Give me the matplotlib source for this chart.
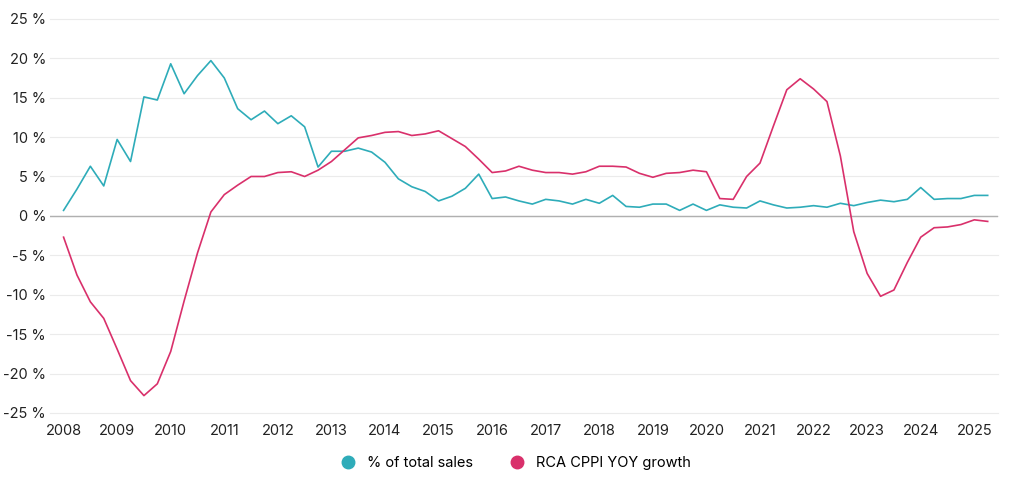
import matplotlib
matplotlib.use("Agg")
import matplotlib.pyplot as plt
import numpy as np
from matplotlib.lines import Line2D

plt.rcParams['font.family'] = ['Inter', 'DejaVu Sans']

start_year = 2008.0
share_sales = [0.7,3.4,6.3,3.8,9.7,6.9,15.1,14.7,19.3,15.5,17.8,19.7,17.5,13.6,12.2,13.3,11.7,12.7,11.3,6.2,
               8.2,8.2,8.6,8.1,6.8,4.7,3.7,3.1,1.9,2.5,3.5,5.3,2.2,2.4,
               1.9,1.5,2.1,1.9,1.5,2.1,1.6,2.6,1.2,1.1,1.5,1.5,0.7,1.5,0.7,1.4,1.1,1.0,1.9,1.4,1.0,1.1,1.3,1.1,
               1.6,1.3,1.7,2.0,1.8,2.1,3.6,2.1,2.2,2.2,2.6,2.6]
cppi_yoy = [-2.7,-7.5,-10.9,-13.0,-16.9,-20.9,-22.8,-21.3,-17.2,-10.8,-4.7,0.5,2.7,3.9,5.0,5.0,5.5,5.6,5.0,5.8,
            6.9,8.4,9.9,10.2,10.6,10.7,10.2,10.4,10.8,9.8,8.8,7.2,5.5,5.7,
            6.3,5.8,5.5,5.5,5.3,5.6,6.3,6.3,6.2,5.4,4.9,5.4,5.5,5.8,5.6,2.2,2.1,5.0,6.7,11.4,16.0,17.4,16.1,14.5,
            7.6,-2.0,-7.3,-10.2,-9.4,-5.9,-2.7,-1.5,-1.4,-1.1,-0.5,-0.7]
x = start_year + np.arange(len(share_sales)) * 0.25
years = list(range(2008, 2026))
yticks = list(range(-25, 30, 5))

teal = "#2eacb9"
red = "#d9306b"

fig = plt.figure(figsize=(10.24, 4.83), dpi=100)
ax = fig.add_axes([0.049, 0.145, 0.926, 0.816])
for y in yticks:
    ax.axhline(y, color="#ebebeb", lw=0.8, zorder=0, clip_on=False)
ax.axhline(0, color="#b0b0b0", lw=1.0, zorder=1)
ax.plot(x, share_sales, color=teal, lw=1.2, zorder=3)
ax.plot(x, cppi_yoy, color=red, lw=1.2, zorder=3)
ax.set_ylim(-25, 25)
ax.set_xlim(2007.75, 2025.45)
ax.set_yticks(yticks)
ax.set_yticklabels([f"{v} %" for v in yticks])
ax.set_xticks(years)
ax.set_xticklabels([str(y) for y in years])
for s in ax.spines.values():
    s.set_visible(False)
ax.tick_params(length=0, labelsize=10.5, colors="#222222")
ax.tick_params(axis="y", pad=3)
ax.tick_params(axis="x", pad=8)
handles = [Line2D([], [], marker="o", ls="", color=teal, markersize=9, label="% of total sales"),
           Line2D([], [], marker="o", ls="", color=red, markersize=9, label="RCA CPPI YOY growth")]
fig.legend(handles=handles, loc="lower center", ncol=2, frameon=False, fontsize=10.5,
           bbox_to_anchor=(0.5, 0.0), handletextpad=0.3, columnspacing=2.0)
fig.savefig("out.png", dpi=100)
